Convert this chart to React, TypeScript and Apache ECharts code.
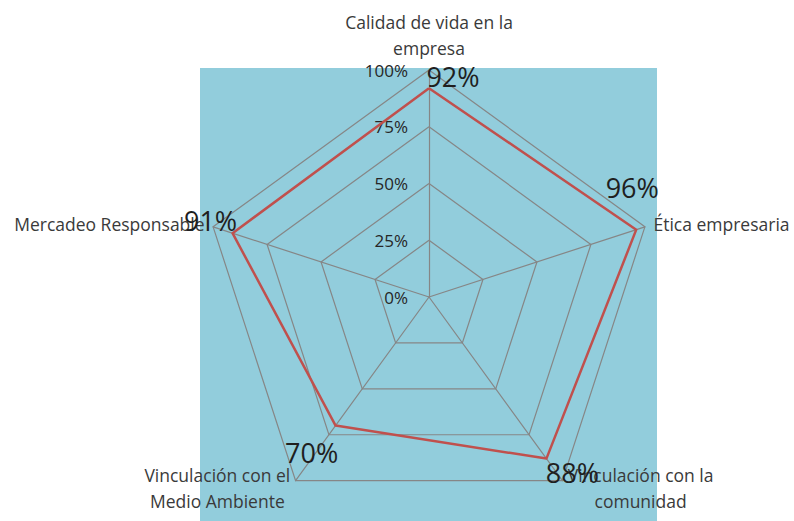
import React, { useEffect, useRef } from "react";
import * as echarts from "echarts";

// Indicators in ECharts order (top, then counter-clockwise)
const categories = [
  "Calidad de vida en la\nempresa",
  "Mercadeo Responsable",
  "Vinculación con el\nMedio Ambiente",
  "Vinculación con la\ncomunidad",
  "Ética empresaria",
];
const values = [92, 91, 70, 88, 96];
const axisMax = 100;

// label placement relative to each vertex (styling only)
const labelOffsets: [number, number][] = [
  [24, -12],
  [-22, -13],
  [-24, 27],
  [26, 14],
  [-4, -42],
];

const FONT = "Open Sans";

export default function App() {
  const ref = useRef<HTMLDivElement>(null);
  useEffect(() => {
    if (!ref.current) return;
    const chart = echarts.init(ref.current, undefined, { renderer: "svg" });
    chart.setOption({
      animation: false,
      graphic: [
        {
          type: "rect",
          z: -1,
          silent: true,
          shape: { x: 200, y: 68, width: 457, height: 453 },
          style: { fill: "#92CDDC" },
        },
      ],
      radar: {
        center: [429, 297],
        radius: 227,
        startAngle: 90,
        shape: "polygon",
        splitNumber: 4,
        nameGap: 9,
        indicator: categories.map((name, i) =>
          i === 0
            ? { name, min: 0, max: axisMax, axisLabel: { show: true } }
            : { name, min: 0, max: axisMax }
        ),
        axisName: {
          color: "#3A3A3A",
          fontSize: 17.5,
          fontFamily: FONT,
          formatter: (name: string) =>
            name
              .split("\n")
              .map((l) => `{n|${l}}`)
              .join("\n"),
          rich: {
            n: {
              align: "center",
              lineHeight: 26,
              fontSize: 17.5,
              fontFamily: FONT,
              color: "#3A3A3A",
            },
          },
        },
        axisLine: { lineStyle: { color: "#868686", width: 1.2 } },
        splitLine: { lineStyle: { color: "#868686", width: 1.2 } },
        splitArea: { show: false },
        axisTick: { show: false },
        axisLabel: {
          show: false,
          formatter: "{value}%",
          margin: 21,
          fontSize: 17,
          fontFamily: FONT,
          color: "#262626",
        },
      },
      series: [
        {
          type: "radar",
          symbol: "none",
          z: 3,
          lineStyle: { color: "#C0504D", width: 2.5 },
          data: [{ value: values }],
        },
        {
          type: "radar",
          symbol: "circle",
          symbolSize: 1,
          z: 4,
          lineStyle: { width: 0, opacity: 0 },
          itemStyle: { color: "rgba(0,0,0,0)" },
          data: labelOffsets.map((off, k) => ({
            value: values,
            label: {
              show: true,
              position: "inside",
              offset: off,
              fontSize: 27,
              fontFamily: FONT,
              color: "#1F1F1F",
              formatter: (p: any) =>
                p.dimensionIndex === k ? `${p.value}%` : "",
            },
          })),
        },
      ],
    });
    return () => chart.dispose();
  }, []);
  return (
    <div
      ref={ref}
      style={{ position: "absolute", left: 0, top: 0, width: 794, height: 521 }}
    />
  );
}
